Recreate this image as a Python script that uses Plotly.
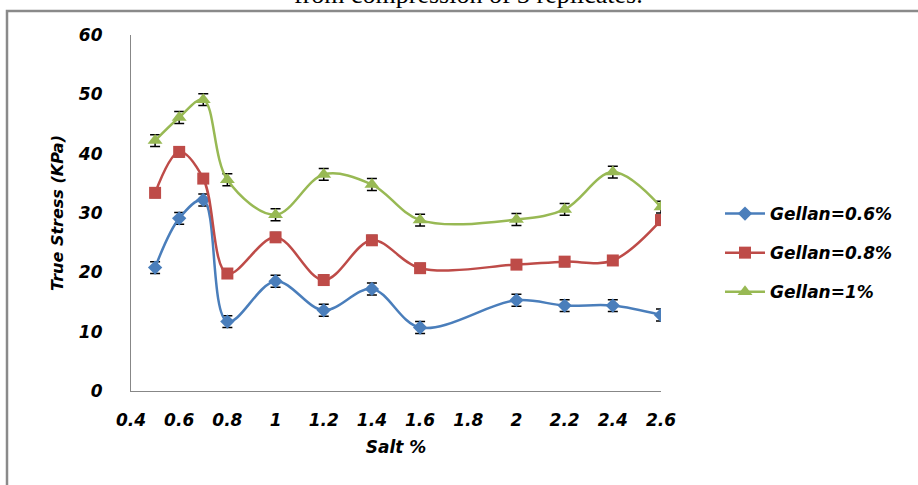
import plotly.graph_objects as go

salt = [0.5, 0.6, 0.7, 0.8, 1.0, 1.2, 1.4, 1.6, 2.0, 2.2, 2.4, 2.6]
gellan_06 = [20.8, 29.1, 32.2, 11.7, 18.5, 13.6, 17.2, 10.7, 15.3, 14.4, 14.4, 12.8]
gellan_08 = [33.4, 40.3, 35.8, 19.8, 25.9, 18.7, 25.4, 20.7, 21.3, 21.8, 22.0, 28.8]
gellan_1 = [42.2, 46.1, 49.1, 35.6, 29.7, 36.5, 34.8, 28.8, 28.9, 30.6, 36.9, 31.0]
err_06 = [1.0, 1.0, 1.0, 1.0, 1.0, 1.0, 1.0, 1.0, 1.0, 1.0, 1.0, 1.0]
err_08 = [0.8, 0.8, 0.8, 0.8, 0.8, 0.8, 0.8, 0.8, 0.8, 0.8, 0.8, 0.8]
err_1 = [1.0, 1.0, 1.0, 1.0, 1.0, 1.0, 1.0, 1.0, 1.0, 1.0, 1.0, 1.0]
names = ["Gellan=0.6%", "Gellan=0.8%", "Gellan=1%"]
x_ticks = [0.4, 0.6, 0.8, 1.0, 1.2, 1.4, 1.6, 1.8, 2.0, 2.2, 2.4, 2.6]
x_tick_labels = ["0.4", "0.6", "0.8", "1", "1.2", "1.4", "1.6", "1.8", "2", "2.2", "2.4", "2.6"]
y_ticks = [0, 10, 20, 30, 40, 50, 60]

FONT = "DejaVu Sans"
fig = go.Figure()
series = [
    (gellan_06, err_06, "#4A7EBB", "diamond", 11),
    (gellan_08, err_08, "#BE4B48", "square", 12),
    (gellan_1, err_1, "#98B954", "triangle-up", 13),
]
for i, (vals, errs, col, sym, sz) in enumerate(series):
    fig.add_trace(go.Scatter(
        x=salt, y=vals, name=names[i], mode="lines+markers",
        line=dict(color=col, width=2.5, shape="spline", smoothing=1.0),
        marker=dict(symbol=sym, size=sz, color=col),
        error_y=dict(type="data", array=errs, visible=True, color="black", thickness=1.5, width=5),
        legendgroup=f"g{i}",
    ))

L, T = 131, 35
W, H = 530, 356
R = 918 - L - W
B = 485 - T - H

def px_x(p):
    return (p - L) / W

def px_y(p):
    return (T + H - p) / H

fig.update_layout(
    width=918, height=485,
    margin=dict(l=L, r=R, t=T, b=B, pad=0, autoexpand=False),
    paper_bgcolor="white", plot_bgcolor="white",
    font=dict(family=FONT, size=17, color="black", weight="bold", style="italic"),
    showlegend=True,
    legend=dict(xref="container", yref="container", x=720 / 918, y=1 - 196 / 485,
                xanchor="left", yanchor="top",
                font=dict(family=FONT, size=17, color="black", weight="bold", style="italic"),
                tracegroupgap=14, bgcolor="rgba(0,0,0,0)", itemwidth=40),
    xaxis=dict(range=[0.4, 2.6], tickmode="array", tickvals=x_ticks, ticktext=x_tick_labels,
               showgrid=False, zeroline=False, showline=True, linecolor="#878787", linewidth=1.2,
               ticks="", ticklabelstandoff=13, automargin=False,
               title=dict(text="Salt %", standoff=12, font=dict(size=17))),
    yaxis=dict(range=[0, 60], tickmode="array", tickvals=y_ticks,
               showgrid=False, zeroline=False, showline=True, linecolor="#878787", linewidth=1.2,
               ticks="", ticklabelstandoff=24, automargin=False,
               title=dict(text="True Stress (KPa)", standoff=10, font=dict(size=16))),
    shapes=[dict(type="rect", xref="paper", yref="paper",
                 x0=px_x(7), x1=px_x(940), y0=px_y(520), y1=px_y(11),
                 line=dict(color="#8a8a8a", width=2.5), fillcolor="rgba(0,0,0,0)", layer="below")],
    annotations=[dict(text="from compression of 3 replicates.", xref="paper", yref="paper",
                      x=px_x(468), y=px_y(11), xanchor="center", yanchor="bottom",
                      showarrow=False,
                      font=dict(family="Liberation Serif", size=26, color="black",
                                weight="normal", style="normal"))],
)

fig.write_html("out.html", config={"displayModeBar": False},
               post_script="document.body.style.margin='0';")
